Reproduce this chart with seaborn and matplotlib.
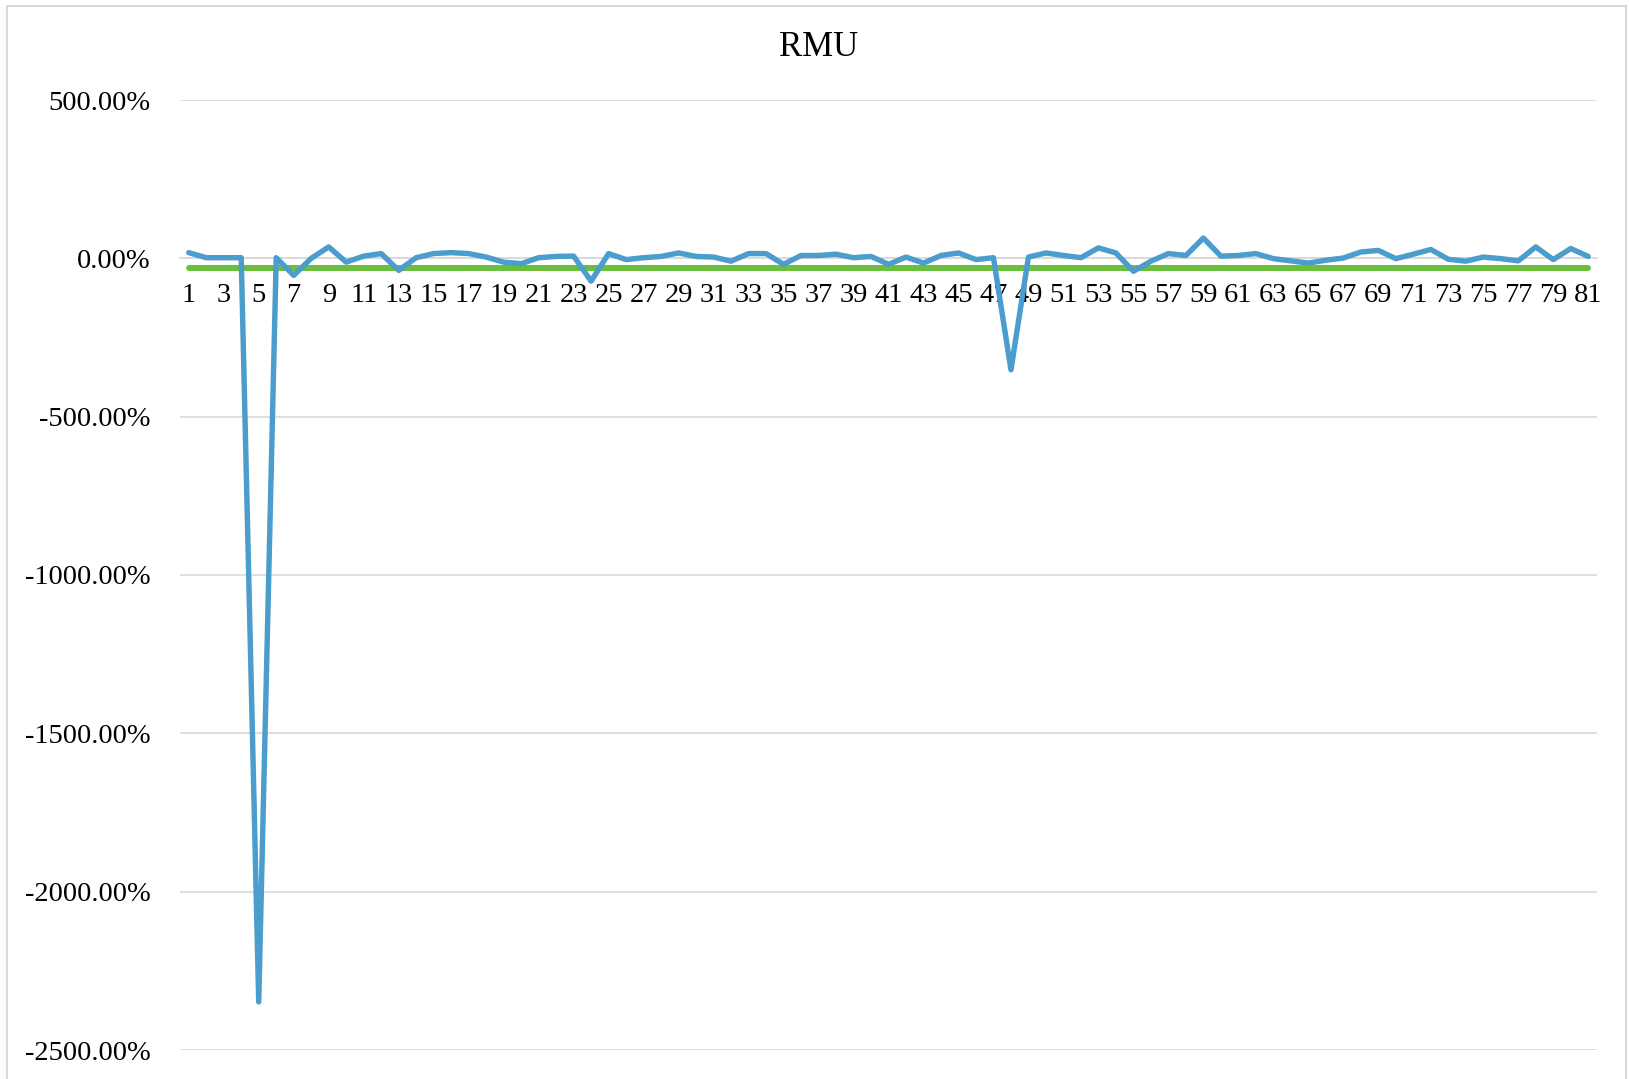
import matplotlib
matplotlib.use('Agg')

import matplotlib.pyplot as plt
import matplotlib.patches as mpatches
import seaborn as sns
import numpy as np
import pandas as pd

# 数据（百分比）
periods = list(range(1, 82))
rmu_values = [
    18, 2, 2, 2, -2348, 2, -54, 0, 36, -12,
    7, 15, -38, 2, 15, 18, 15, 4, -12, -17,
    2, 6, 7, -72, 15, -4, 2, 6, 17, 6,
    4, -9, 15, 15, -19, 9, 9, 13, 2, 6,
    -19, 4, -15, 9, 17, -4, 2, -352, 4, 17,
    9, 2, 33, 17, -41, -9, 15, 9, 64, 7,
    9, 15, -1, -8, -15, -6, 1, 20, 25, -1,
    13, 28, -3, -9, 4, -1, -8, 36, -4, 31,
    6,
]
y_ticks = [500, 0, -500, -1000, -1500, -2000, -2500]
x_ticks = periods[::2]

sns.set_style('white')
plt.rcParams['font.family'] = ['Liberation Serif', 'DejaVu Serif']
plt.rcParams['text.color'] = 'black'
plt.rcParams['xtick.color'] = 'black'
plt.rcParams['ytick.color'] = 'black'

df = pd.DataFrame({'period': periods, 'rmu': rmu_values})
mean_val = np.mean(rmu_values)  # 绿线为均值
df_mean = pd.DataFrame({'period': [periods[0], periods[-1]], 'rmu': [mean_val, mean_val]})

fig = plt.figure(figsize=(16.29, 10.79), dpi=100)
ax = fig.add_axes([180 / 1629, 1 - 1050 / 1079, (1597 - 180) / 1629, (1050 - 100) / 1079])

# 外边框
fig.patches.append(mpatches.Rectangle((7 / 1629, -0.02), (1626 - 7) / 1629, 1.02 - 6 / 1079,
                                      transform=fig.transFigure, fill=False,
                                      edgecolor='#D9D9D9', linewidth=1.5, zorder=0))

sns.lineplot(data=df, x='period', y='rmu', ax=ax, color='#4A9DCC', linewidth=3.9,
             solid_joinstyle='round', solid_capstyle='round', zorder=3)
sns.lineplot(data=df_mean, x='period', y='rmu', ax=ax, color='#6ABF3C', linewidth=4.3,
             solid_capstyle='round', zorder=2)

ax.set_xlim(0.5, 81.5)
ax.set_ylim(-2500, 500)
ax.set_yticks(y_ticks)
ax.set_yticklabels([f'{v:.2f}%' for v in y_ticks])
ax.set_xticks(x_ticks)
ax.set_xticklabels([str(v) for v in x_ticks])
ax.yaxis.grid(True, color='#D9D9D9', linewidth=1.2)
ax.set_axisbelow(True)

for s in ['top', 'right', 'left']:
    ax.spines[s].set_visible(False)
ax.spines['bottom'].set_position(('data', 0))
ax.spines['bottom'].set_color('#D9D9D9')
ax.spines['bottom'].set_linewidth(1.2)

ax.tick_params(axis='x', length=0, pad=18, labelsize=20.5)
ax.tick_params(axis='y', length=0, pad=21, labelsize=20.5)
ax.set_xlabel('')
ax.set_ylabel('')

fig.text(819 / 1629, 1 - 48 / 1079, 'RMU', ha='center', va='center', fontsize=25)

plt.savefig('out.png', dpi=100)
plt.close()
